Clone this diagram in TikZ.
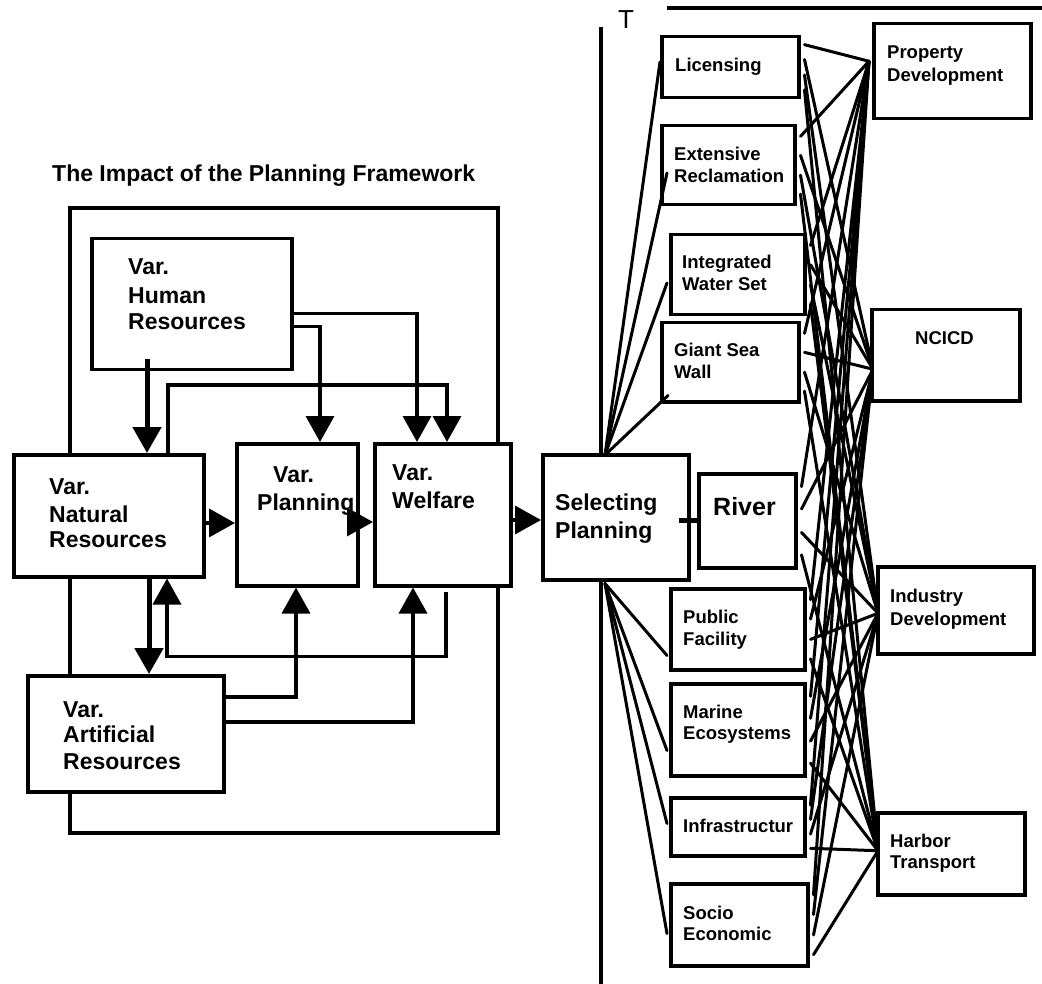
\documentclass[tikz,border=0pt]{standalone}
\usepackage{fontspec}
\setmainfont{Liberation Sans}
\usetikzlibrary{arrows.meta,calc}
\pgfdeclarelayer{bg}
\pgfsetlayers{bg,main}
\begin{document}
\begin{tikzpicture}[x=1pt,y=-1pt,
  box/.style={draw, line width=3.5pt, fill=white, inner sep=0pt, anchor=north west},
  big/.style={font=\bfseries\fontsize{23}{27}\selectfont, anchor=base west, inner sep=0pt},
  small/.style={font=\bfseries\fontsize{18.5}{21}\selectfont, anchor=base west, inner sep=0pt},
  arr/.style={line width=3.5pt, -{Triangle[width=28pt,length=26pt]}},
  thickarr/.style={line width=5pt, -{Triangle[width=28pt,length=26pt]}},
  link/.style={line width=3pt, line cap=round},
  framel/.style={line width=4pt}]
\useasboundingbox (0,0) rectangle (1042,984);

% ---------- boxes ----------
\node[box, minimum width=200pt, minimum height=131pt] (hum) at (90,237) {};
\node[box, minimum width=190pt, minimum height=122pt] (nat) at (12,453) {};
\node[box, minimum width=121pt, minimum height=142pt] (pla) at (235,442) {};
\node[box, minimum width=136pt, minimum height=142pt] (wel) at (373,442) {};
\node[box, minimum width=196pt, minimum height=116pt] (art) at (26,674) {};
\node[box, minimum width=146pt, minimum height=125pt] (sel) at (541,453) {};
\node[box, minimum width=97pt, minimum height=94pt] (riv) at (697,472) {};
\node[box, minimum width=137pt, minimum height=61pt] (lic) at (660,35) {};
\node[box, minimum width=133pt, minimum height=79pt] (ext) at (660,124) {};
\node[box, minimum width=134pt, minimum height=80pt] (int) at (669,233) {};
\node[box, minimum width=137pt, minimum height=79pt] (gsw) at (660,321) {};
\node[box, minimum width=134pt, minimum height=81pt] (pf) at (669,587) {};
\node[box, minimum width=134pt, minimum height=92pt] (me) at (669,682) {};
\node[box, minimum width=134pt, minimum height=58pt] (inf) at (669,796) {};
\node[box, minimum width=137pt, minimum height=82pt] (se) at (669,882) {};
\node[box, minimum width=157pt, minimum height=95pt] (pd) at (872,22) {};
\node[box, minimum width=148pt, minimum height=91pt] (nc) at (870,308) {};
\node[box, minimum width=156pt, minimum height=87pt] (id) at (876,565) {};
\node[box, minimum width=147pt, minimum height=82pt] (ht) at (876,811) {};

% ---------- texts ----------
\node[big] (title) at (52,182) {The Impact of the Planning Framework};
\node[big] (hum1) at (128,275) {Var.};
\node[big] (hum2) at (128,304) {Human};
\node[big] (hum3) at (128,330) {Resources};
\node[big] (nat1) at (49,494) {Var.};
\node[big] (nat2) at (49,522) {Natural};
\node[big] (nat3) at (49,547) {Resources};
\node[big] (pla1) at (273,482) {Var.};
\node[big] (pla2) at (257,510) {Planning};
\node[big] (wel1) at (392,480) {Var.};
\node[big] (wel2) at (392,508) {Welfare};
\node[big] (art1) at (63,717) {Var.};
\node[big] (art2) at (63,742) {Artificial};
\node[big] (art3) at (63,769) {Resources};
\node[big] (sel1) at (555,510) {Selecting};
\node[big] (sel2) at (555,538) {Planning};
\node[big, font=\bfseries\fontsize{25}{27}\selectfont] (riv1) at (713,515) {River};
\node[small] (lic1) at (675,72) {Licensing};
\node[small] (ext1) at (674,161) {Extensive};
\node[small] (ext2) at (674,183) {Reclamation};
\node[small] (int1) at (682,269) {Integrated};
\node[small] (int2) at (682,291) {Water Set};
\node[small] (gsw1) at (674,357) {Giant Sea};
\node[small] (gsw2) at (674,379) {Wall};
\node[small] (pf1) at (683,623) {Public};
\node[small] (pf2) at (683,645) {Facility};
\node[small] (me1) at (683,718) {Marine};
\node[small] (me2) at (683,739) {Ecosystems};
\node[small] (inf1) at (683,832) {Infrastructur};
\node[small] (se1) at (683,919) {Socio};
\node[small] (se2) at (683,940) {Economic};
\node[small] (pd1) at (887,59) {Property};
\node[small] (pd2) at (887,82) {Development};
\node[small] (nc1) at (915,345) {NCICD};
\node[small] (id1) at (890,602) {Industry};
\node[small] (id2) at (890,625) {Development};
\node[small] (ht1) at (890,847) {Harbor};
\node[small] (ht2) at (890,868) {Transport};
\node[font=\fontsize{26}{26}\selectfont, anchor=base, inner sep=0pt] (tee) at (626,29) {T};

% ---------- background lines ----------
\coordinate (f1) at (70,208);
\coordinate (f2) at (498,833);
\coordinate (v1) at (601,27);
\coordinate (v2) at (601,984);
\coordinate (h1) at (667,8);
\coordinate (h2) at (1042,8);
\coordinate (pd-in) at ($(pd.west)+(-3,-10)$);
\coordinate (nc-in) at ($(nc.west)+(3,14)$);
\coordinate (id-in) at ($(id.west)+(2,3)$);
\coordinate (ht-in) at ($(ht.west)+(2,-3)$);
\begin{pgfonlayer}{bg}
  \draw[framel] (f1) rectangle (f2);
  \draw[framel] (v1) -- (v2);
  \draw[framel] (h1) -- (h2);
  \foreach \b in {lic,ext,int,gsw,riv,pf,me,inf,se} {
    \foreach \t/\f in {pd/0.15,nc/0.38,id/0.62,ht/0.85} {
      \draw[link] ($(\b.north east)!\f!(\b.south east)+(4,0)$) -- (\t-in);
    }
  }
\end{pgfonlayer}

% ---------- fan lines ----------
\coordinate (seltop) at ($(sel.north west)+(64,2)$);
\coordinate (selbot) at ($(sel.south west)+(64,2)$);
\draw[link] (seltop) -- ($(lic.north west)+(0,27)$);
\draw[link] (seltop) -- ($(ext.north west)+(7,49)$);
\draw[link] (seltop) -- ($(int.north west)+(-2,50)$);
\draw[link] (seltop) -- ($(gsw.south west)+(8,-8)$);
\draw[link] (selbot) -- ($(pf.south west)+(-2,-16)$);
\draw[link] (selbot) -- ($(me.south west)+(-2,-27)$);
\draw[link] (selbot) -- ($(inf.south west)+(-2,-34)$);
\draw[link] (selbot) -- ($(se.south west)+(-2,-34)$);
\draw[line width=5pt] ($(sel.north east)+(-12,67)$) -- ($(riv.north west)+(0,48)$);

% ---------- arrows ----------
\draw[thickarr] ($(hum.south west)+(57,-12)$) -- ($(nat.north west)+(135,0)$);
\draw[arr] ($(hum.south east)+(0,-45)$) -| ($(pla.north west)+(85,0)$);
\draw[arr] ($(hum.south east)+(0,-58)$) -| ($(wel.north west)+(44,0)$);
\draw[arr] ($(nat.north west)+(156,0)$) -- ++(0,-68) -| ($(wel.north west)+(74,0)$);
\draw[arr] ($(nat.north east)+(0,70)$) -- ($(pla.north west)+(0,81)$);
\draw[arr] ($(pla.north east)+(0,80)$) -- ($(wel.north west)+(0,80)$);
\draw[arr] ($(wel.north east)+(0,78)$) -- ($(sel.north west)+(0,67)$);
\draw[thickarr] ($(nat.south west)+(137,0)$) -- ($(art.north west)+(123,0)$);
\draw[arr] ($(wel.south west)+(73,4)$) -- ++(0,65) -| ($(nat.south west)+(155,0)$);
\draw[arr] ($(art.north east)+(0,23)$) -| ($(pla.south west)+(61,0)$);
\draw[arr] ($(art.north east)+(0,48)$) -| ($(wel.south west)+(40,0)$);
\end{tikzpicture}
\end{document}
